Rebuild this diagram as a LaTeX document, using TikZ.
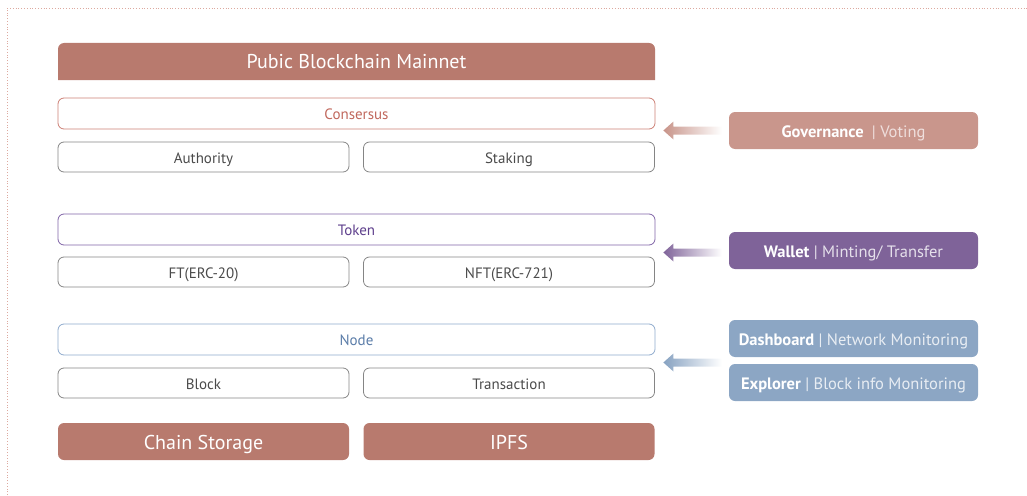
\documentclass[tikz,border=0pt]{standalone}
\usepackage{fontspec}
\setmainfont{PT Sans}
\usetikzlibrary{calc}
\definecolor{MainClr}{HTML}{B87A6E}
\definecolor{GovClr}{HTML}{C9968C}
\definecolor{ConsClr}{HTML}{CC7F74}
\definecolor{ConsTxt}{HTML}{C0675C}
\definecolor{TokClr}{HTML}{7F63A6}
\definecolor{TokTxt}{HTML}{5E3F8C}
\definecolor{WalClr}{HTML}{7F6399}
\definecolor{NodeClr}{HTML}{8DA9CC}
\definecolor{NodeTxt}{HTML}{5A7CA8}
\definecolor{DashClr}{HTML}{8CA6C4}
\definecolor{BoxClr}{HTML}{858585}
\definecolor{TxtClr}{HTML}{4A4A4A}
\definecolor{FrameClr}{HTML}{DDA99F}

% shaded arrow: colour, tip, tail
\newcommand\fadearrow[3]{%
  \shade[left color=#1, right color=white]
    (#2) -- ($(#2)+(10,-9)$) -- ($(#2)+(10,-4)$) -- ($(#3)+(0,-4)$)
    -- ($(#3)+(0,4)$) -- ($(#2)+(10,4)$) -- ($(#2)+(10,9)$) -- cycle;}

\begin{document}
\begin{tikzpicture}[x=1pt,y=-1pt,
  wide/.style={draw,rounded corners=6,line width=0.8pt,minimum width=597,
    minimum height=31,text height=14pt,text depth=2pt,
    font=\fontsize{15}{17}\selectfont},
  half/.style={draw=BoxClr,rounded corners=6,line width=0.8pt,minimum width=291,
    minimum height=30,text height=14pt,text depth=2pt,text=TxtClr,
    font=\fontsize{15}{17}\selectfont},
  store/.style={fill=MainClr,rounded corners=6,minimum width=291,minimum height=37,
    text height=17pt,text depth=2pt,text=white,font=\fontsize{20}{23}\selectfont},
  tool/.style={rounded corners=6,minimum width=249,minimum height=37,
    text height=15pt,text depth=2pt,text=white,font=\fontsize{16.5}{19}\selectfont}]
\useasboundingbox (0,0) rectangle (1027,495);

\draw[FrameClr,dotted,line width=0.8pt] (7,495) -- (7,8) -- (1027,8);

% mainnet
\fill[MainClr] (58,80) [rounded corners=6] -- (58,43) -- (655,43)
  [sharp corners] -- (655,80) -- cycle;
\node[text=white,font=\fontsize{20}{23}\selectfont] (main) at (356.5,61.5)
  {Pubic Blockchain Mainnet};

\node[wide,draw=ConsClr,text=ConsTxt] (cons) at (356.5,113.5) {Consersus};
\node[half] (auth) at (203.5,157) {Authority};
\node[half] (stak) at (509,157) {Staking};

\node[wide,draw=TokClr,text=TokTxt] (tok) at (356.5,229.5) {Token};
\node[half] (ft) at (203.5,272) {FT(ERC-20)};
\node[half] (nft) at (509,272) {NFT(ERC-721)};

\node[wide,draw=NodeClr,text=NodeTxt] (nd) at (356.5,339.5) {Node};
\node[half] (blk) at (203.5,383) {Block};
\node[half] (tx) at (509,383) {Transaction};

\node[store] (chain) at (203.5,441.5) {Chain Storage};
\node[store] (ipfs) at (509,441.5) {IPFS};

% tools
\node[tool,fill=GovClr] (gov) at (853.5,130.5)
  {\textbf{Governance}\enspace\textcolor{white!70!GovClr}{| Voting}};
\node[tool,fill=WalClr] (wal) at (853.5,250.5)
  {\textbf{Wallet} \textcolor{white!80!WalClr}{| Minting/ Transfer}};
\node[tool,fill=DashClr] (dash) at (853.5,338.5)
  {\textbf{Dashboard} \textcolor{white!80!DashClr}{| Network Monitoring}};
\node[tool,fill=DashClr] (expl) at (853.5,382.5)
  {\textbf{Explorer} \textcolor{white!80!DashClr}{| Block info Monitoring}};

\coordinate (govtip) at ($(cons.east |- gov.west)+(8,0)$);
\coordinate (govend) at ($(gov.west)+(-7,0)$);
\coordinate (waltip) at ($(tok.east |- wal.west)+(8,2)$);
\coordinate (walend) at ($(wal.west)+(-7,2)$);
\coordinate (ndtip) at ($(nd.east)+(8,23)$);
\coordinate (ndend) at ($(gov.west |- ndtip)+(-7,0)$);
\fadearrow{GovClr!90!MainClr}{govtip}{govend}
\fadearrow{WalClr}{waltip}{walend}
\fadearrow{DashClr!90!NodeTxt}{ndtip}{ndend}
\end{tikzpicture}
\end{document}
